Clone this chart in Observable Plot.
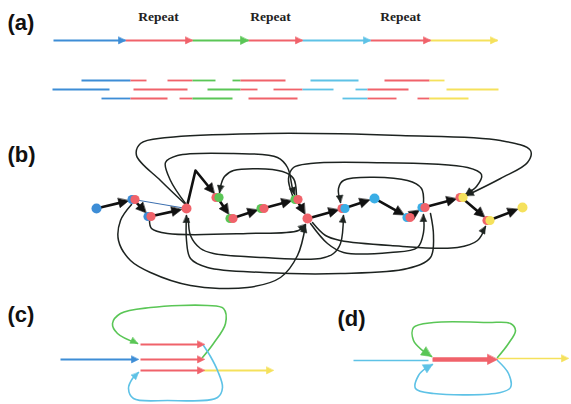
<!DOCTYPE html>
<html><head><meta charset="utf-8">
<script src="https://cdn.jsdelivr.net/npm/d3@7"></script>
<script src="https://cdn.jsdelivr.net/npm/@observablehq/plot@0.6"></script>
<style>body{margin:0;background:#fff}</style>
</head><body><div id="chart"></div>
<script>
// ---------- data ----------
const palette = {blue:"#3d8dd6", red:"#f0626a", green:"#5ac656", cyan:"#5ec2e6", yellow:"#f5e15c", ink:"#1d2320", nodeCyan:"#3aaee6"};

const panelLabels = [
  {text:"(a)", x:7, y:22}, {text:"(b)", x:7, y:154},
  {text:"(c)", x:7, y:314}, {text:"(d)", x:337, y:318}
];
const repeatLabels = [
  {text:"Repeat", x:158, y:16}, {text:"Repeat", x:270, y:16}, {text:"Repeat", x:400, y:16}
];

// panel (a): genome with repeats
const genomeY = 40;
const genomeBreaks = [53, 125, 192, 248, 302, 370, 430, 497];
const genomeColors = ["blue", "red", "green", "red", "cyan", "red", "yellow"];

// reads: [row, start, end, colour]
const readRowsY = [80, 89, 98];
const reads = [
  [0,81,130,"blue"],[0,130,146,"red"],[0,167,192,"red"],[0,192,215,"green"],[0,232,240,"green"],[0,240,285,"red"],
  [0,310,358,"cyan"],[0,384,429,"red"],[0,429,444,"yellow"],
  [1,52,109,"blue"],[1,133,187,"red"],[1,207,240,"green"],[1,240,257,"red"],[1,273,302,"red"],[1,302,333,"cyan"],
  [1,355,367,"cyan"],[1,367,408,"red"],[1,446,498,"yellow"],
  [2,101,130,"blue"],[2,130,167,"red"],[2,179,192,"red"],[2,192,232,"green"],[2,248,297,"red"],[2,342,367,"cyan"],
  [2,367,396,"red"],[2,417,429,"red"],[2,429,468,"yellow"]
];

// panel (b): graph nodes
const nodes = [
  {id:1, x:96,  y:208, c:["blue"]},
  {id:2, x:133, y:199, c:["blue","red"]},
  {id:3, x:149, y:216, c:["blue","red"]},
  {id:4, x:186, y:208, c:["red"]},
  {id:5, x:217, y:197, c:["red","green"]},
  {id:6, x:231, y:218, c:["green","red"]},
  {id:7, x:262, y:208, c:["green","red"]},
  {id:8, x:296, y:199, c:["green","red"]},
  {id:9, x:307, y:218, c:["red"]},
  {id:10, x:343, y:208, c:["red","nodeCyan"]},
  {id:11, x:374, y:198, c:["nodeCyan"]},
  {id:12, x:408, y:217, c:["nodeCyan","red"]},
  {id:13, x:423, y:207, c:["nodeCyan","red"]},
  {id:14, x:461, y:197, c:["red","yellow"]},
  {id:15, x:488, y:220, c:["red","yellow"]},
  {id:16, x:522, y:207, c:["yellow"]}
];
const pathOrder = [1,2,3,4,5,6,7,8,9,10,11,12,13,14,15,16];
const edgeBends = {"4-5": [[195,170]]};
const thinBlueEdge = [2, 4];

// loops (thin curved edges) of panel (b)
const loops = [
  [[184,203],[160,180],[136,155],[140,143],[167,137],[267,133],[400,135],[500,140],[530,150],[527,162],[500,178],[466,195]],
  [[185,203],[170,180],[165,162],[177,155],[233,153],[277,157],[287,167],[292,188],[294,194]],
  [[292,195],[288,178],[293,167],[310,163],[367,162],[467,167],[481,174],[476,186],[465,194]],
  [[296,195],[293,178],[282,171],[233,170],[224,176],[220,186],[219,192]],
  [[423,203],[421,188],[407,180],[343,180],[338,188],[340,202]],
  [[149,220],[151,228],[167,233],[247,233],[298,230],[305,224]],
  [[131,204],[120,220],[118,240],[130,260],[150,272],[190,285],[247,287],[280,277],[297,255],[305,225]],
  [[188,218],[190,235],[200,248],[213,253],[263,257],[320,258],[333,253],[340,243],[343,215]],
  [[430,213],[433,235],[430,257],[407,268],[340,273],[263,272],[207,267],[190,258],[186,240],[186,215]],
  [[310,223],[327,243],[343,252],[390,252],[417,247],[423,232],[423,214]],
  [[312,222],[325,235],[340,240],[390,245],[457,247],[477,240],[485,226]]
];

// panel (c)
const cRedY = [344, 359, 370];
const cRedX = [140, 202];
const cIn = {x1:60, x2:138, y:359};
const cOut = {x1:203, x2:273, y:370};
const cGreenLoop = [[202,357],[213,343],[225,323],[223,308],[207,305],[150,307],[120,313],[112,323],[117,333],[137,343]];
const cCyanLoop = [[203,345],[210,356],[217,370],[222,387],[217,397],[167,400],[133,398],[128,388],[132,378],[138,372]];

// panel (d)
const dIn = {x1:353, x2:432, y:360};
const dRed = {x1:432, x2:497, y:359};
const dOut = {x1:497, x2:568, y:358};
const dGreenLoop = [[497,357],[508,343],[515,330],[510,323],[487,322],[433,322],[413,327],[413,340],[422,350],[431,356]];
const dCyanLoop = [[497,360],[508,373],[510,387],[500,392],[433,393],[415,388],[418,375],[425,368],[432,364]];

// ---------- build mark data ----------
const col = k => palette[k] || k;
let hid = 0;
const heads = [];
function addHead(tip, from, len, half, color) {
  const dx = tip[0]-from[0], dy = tip[1]-from[1], L = Math.hypot(dx, dy);
  const ux = dx/L, uy = dy/L;
  const bx = tip[0]-ux*len, by = tip[1]-uy*len;
  const id = "h" + (hid++);
  heads.push({id, x:tip[0], y:tip[1], color:col(color)});
  heads.push({id, x:bx - uy*half, y:by + ux*half, color:col(color)});
  heads.push({id, x:bx + uy*half, y:by - ux*half, color:col(color)});
}

// (a) genome
const genomeSegs = genomeColors.map((c,i) => ({x1:genomeBreaks[i], x2:genomeBreaks[i+1], y:genomeY, color:col(c)}));
genomeColors.forEach((c,i) => addHead([genomeBreaks[i+1], genomeY], [genomeBreaks[i], genomeY], c==="green"?8:7, c==="green"?4:3.4, c));
const readSegs = reads.map(([r,a,b,c]) => ({x1:a, x2:b, y:readRowsY[r], color:col(c)}));

// (b) main path
const byId = new Map(nodes.map(n => [n.id, n]));
const mainLines = [];
const unit = (a,b) => { const dx=b[0]-a[0], dy=b[1]-a[1], L=Math.hypot(dx,dy); return [dx/L, dy/L]; };
for (let i = 0; i < pathOrder.length-1; i++) {
  const s = byId.get(pathOrder[i]), t = byId.get(pathOrder[i+1]);
  const key = s.id + "-" + t.id;
  const pts = [[s.x,s.y], ...(edgeBends[key]||[]), [t.x,t.y]];
  const u0 = unit(pts[0], pts[1]);
  const u1 = unit(pts[pts.length-2], pts[pts.length-1]);
  const start = [pts[0][0]+u0[0]*5, pts[0][1]+u0[1]*5];
  const tip = [t.x-u1[0]*5, t.y-u1[1]*5];
  const end = [tip[0]-u1[0]*5, tip[1]-u1[1]*5];
  const line = [start, ...pts.slice(1,-1), end];
  line.forEach(p => mainLines.push({id:key, x:p[0], y:p[1]}));
  addHead(tip, [tip[0]-u1[0], tip[1]-u1[1]], 10, 4.8, "#111");
}
const blueEdge = thinBlueEdge.map(id => ({x:byId.get(id).x, y:byId.get(id).y}));

const loopPts = [];
loops.forEach((pts, i) => {
  pts.forEach(p => loopPts.push({id:i, x:p[0], y:p[1]}));
  addHead(pts[pts.length-1], pts[pts.length-2], 7, 3.2, palette.ink);
});

const nodeDots = [];
nodes.forEach(n => {
  if (n.c.length === 1) nodeDots.push({x:n.x, y:n.y, color:col(n.c[0]), r: 5});
  else {
    nodeDots.push({x:n.x-1.5, y:n.y, color:col(n.c[0]), r: 4.6});
    nodeDots.push({x:n.x+1.5, y:n.y, color:col(n.c[1]), r: 4.6});
  }
});

// (c) and (d) straight segments
const cdSegs = [];
cRedY.forEach(y => { cdSegs.push({x1:cRedX[0], x2:cRedX[1]-4, y, color:col("red"), w:2}); addHead([cRedX[1]+2, y], [cRedX[0], y], 7, 3.4, "red"); });
cdSegs.push({x1:cIn.x1, x2:cIn.x2-4, y:cIn.y, color:col("blue"), w:1.8}); addHead([cIn.x2, cIn.y], [cIn.x1, cIn.y], 7, 3.4, "blue");
cdSegs.push({x1:cOut.x1, x2:cOut.x2-4, y:cOut.y, color:col("yellow"), w:1.8}); addHead([cOut.x2, cOut.y], [cOut.x1, cOut.y], 7, 3.4, "yellow");
cdSegs.push({x1:dIn.x1, x2:dIn.x2-4, y:dIn.y, color:col("cyan"), w:1.6});
cdSegs.push({x1:dRed.x1, x2:dRed.x2-6, y:dRed.y, color:col("red"), w:4.5}); addHead([dRed.x2, dRed.y], [dRed.x1, dRed.y], 10, 5, "red");
cdSegs.push({x1:dOut.x1, x2:dOut.x2-4, y:dOut.y, color:col("yellow"), w:1.6}); addHead([dOut.x2, dOut.y], [dOut.x1, dOut.y], 7, 3.4, "yellow");

const cdLoops = [];
[[cGreenLoop,"green",7,3.2],[cCyanLoop,"cyan",7,3.2],[dGreenLoop,"green",10,4.8],[dCyanLoop,"cyan",9,4.5]].forEach(([pts,c,len,half],i) => {
  pts.forEach(p => cdLoops.push({id:i, x:p[0], y:p[1], color:col(c)}));
  addHead(pts[pts.length-1], pts[pts.length-2], len, half, c);
});

// ---------- plot ----------
const chart = Plot.plot({
  width: 571, height: 404, margin: 0,
  x: {domain:[0,571], range:[0,571], axis:null},
  y: {domain:[0,404], range:[0,404], axis:null},
  color: {type:"identity"},
  r: {type:"identity"},
  style: {background:"#fff"},
  marks: [
    Plot.link(genomeSegs, {x1:"x1", x2:"x2", y1:"y", y2:"y", stroke:"color", strokeWidth:1.8}),
    Plot.link(readSegs, {x1:"x1", x2:"x2", y1:"y", y2:"y", stroke:"color", strokeWidth:1.8}),
    Plot.line(loopPts, {x:"x", y:"y", z:"id", stroke:palette.ink, strokeWidth:1.5, curve:"catmull-rom"}),
    Plot.line(blueEdge, {x:"x", y:"y", stroke:"#3b6fb0", strokeWidth:1}),
    Plot.line(mainLines, {x:"x", y:"y", z:"id", stroke:"#111", strokeWidth:2.6}),
    Plot.link(cdSegs, {x1:"x1", x2:"x2", y1:"y", y2:"y", stroke:"color", strokeWidth:"w"}),
    Plot.line(cdLoops, {x:"x", y:"y", z:"id", stroke:"color", strokeWidth:1.6, curve:"catmull-rom"}),
    Plot.line(heads, {x:"x", y:"y", z:"id", fill:"color", stroke:"color", strokeWidth:0.6, curve:"linear-closed"}),
    Plot.dot(nodeDots, {x:"x", y:"y", r:"r", fill:"color", stroke:null}),
    Plot.text(panelLabels, {x:"x", y:"y", text:"text", textAnchor:"start", fontSize:22, fontWeight:"bold", fontFamily:"Liberation Sans, Arial, sans-serif", fill:"#111"}),
    Plot.text(repeatLabels, {x:"x", y:"y", text:"text", fontSize:13.5, fontWeight:"bold", fontFamily:"Liberation Serif, Times New Roman, serif", fill:"#222"})
  ]
});
document.getElementById("chart").append(chart);
</script>
</body></html>
